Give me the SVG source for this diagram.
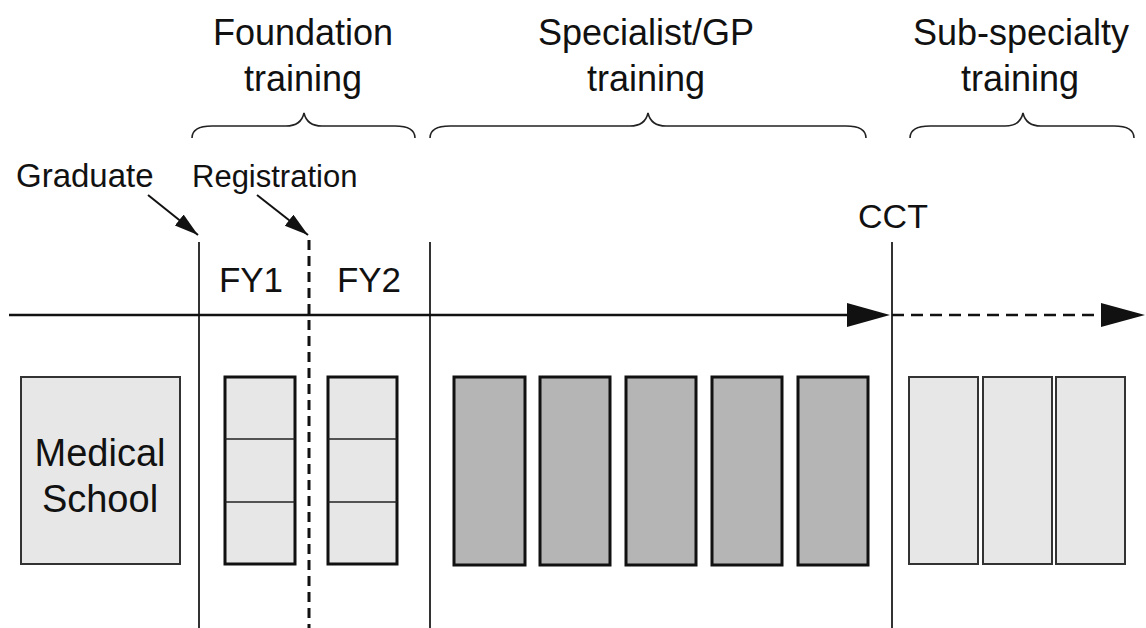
<svg xmlns="http://www.w3.org/2000/svg" width="1146" height="628" viewBox="0 0 1146 628">
  <style>
    text { font-family: "Liberation Sans", Arial, sans-serif; fill: #111; }
    .head { font-size: 36px; text-anchor: middle; }
    .lbl { font-size: 32px; }
    .fy { font-size: 35px; text-anchor: middle; }
    .brace { fill: none; stroke: #222; stroke-width: 1.6; }
    .vline { stroke: #333; stroke-width: 2; }
    .vdash { stroke: #111; stroke-width: 3; stroke-dasharray: 10 6; }
    .light { fill: #e7e7e7; stroke: #333; stroke-width: 2; }
    .fybox { fill: #e7e7e7; stroke: #111; stroke-width: 3; }
    .dark { fill: #b5b5b5; stroke: #111; stroke-width: 3; }
    .div { stroke: #222; stroke-width: 1.5; }
    .pointer { stroke: #111; stroke-width: 2; marker-end: url(#ah); }
  </style>
  <defs>
    <marker id="ah" markerUnits="userSpaceOnUse" markerWidth="26" markerHeight="16" refX="24" refY="7" orient="auto">
      <path d="M0,0 L24,7 L0,14 z" fill="#111"/>
    </marker>
  </defs>

  <!-- headings and braces -->
  <g id="foundation-heading">
    <text class="head" x="303" y="45">Foundation</text>
    <text class="head" x="303" y="91">training</text>
    <path class="brace" d="M192,138 C192,130 198,126 212,126 L286,126 C296,126 302,122 304,113 C306,122 312,126 322,126 L395,126 C409,126 415,130 415,138"/>
  </g>
  <g id="specialist-heading">
    <text class="head" x="646" y="45">Specialist/GP</text>
    <text class="head" x="646" y="91">training</text>
    <path class="brace" d="M430,138 C430,130 436,126 450,126 L630,126 C640,126 646,122 648,113 C650,122 656,126 666,126 L846,126 C860,126 866,130 866,138"/>
  </g>
  <g id="subspecialty-heading">
    <text class="head" x="1021" y="45">Sub-specialty</text>
    <text class="head" x="1020" y="91">training</text>
    <path class="brace" d="M910,138 C910,130 916,126 930,126 L1005,126 C1015,126 1021,122 1023,113 C1025,122 1031,126 1041,126 L1114,126 C1128,126 1134,130 1134,138"/>
  </g>

  <!-- milestone labels -->
  <g id="graduate"><text class="lbl" x="16" y="187" style="font-size:33px">Graduate</text></g>
  <g id="registration"><text class="lbl" x="192" y="187" style="font-size:31px">Registration</text></g>
  <g id="cct"><text class="lbl" x="893" y="228" text-anchor="middle" style="font-size:34px">CCT</text></g>
  <g id="fy1-label"><text class="fy" x="251" y="292">FY1</text></g>
  <g id="fy2-label"><text class="fy" x="369" y="292">FY2</text></g>

  <!-- dividers -->
  <g id="dividers">
    <line class="vline" x1="199" y1="242" x2="199" y2="628"/>
    <line class="vdash" x1="309" y1="240" x2="309" y2="628"/>
    <line class="vline" x1="430" y1="242" x2="430" y2="628"/>
    <line class="vline" x1="892" y1="242" x2="892" y2="628"/>
  </g>

  <!-- boxes -->
  <g id="medical-school">
    <rect class="light" x="21" y="377" width="159" height="187"/>
    <text x="100" y="466" text-anchor="middle" style="font-size:38px">Medical</text>
    <text x="100" y="512" text-anchor="middle" style="font-size:38px">School</text>
  </g>
  <g id="fy1">
    <rect class="fybox" x="225" y="377" width="70" height="187"/>
    <line class="div" x1="225" y1="439" x2="295" y2="439"/>
    <line class="div" x1="225" y1="502" x2="295" y2="502"/>
  </g>
  <g id="fy2">
    <rect class="fybox" x="328" y="377" width="69" height="187"/>
    <line class="div" x1="328" y1="439" x2="397" y2="439"/>
    <line class="div" x1="328" y1="502" x2="397" y2="502"/>
  </g>
  <g id="specialist-1"><rect class="dark" x="454" y="377" width="71" height="188"/></g>
  <g id="specialist-2"><rect class="dark" x="540" y="377" width="70" height="188"/></g>
  <g id="specialist-3"><rect class="dark" x="626" y="377" width="70" height="188"/></g>
  <g id="specialist-4"><rect class="dark" x="712" y="377" width="70" height="188"/></g>
  <g id="specialist-5"><rect class="dark" x="798" y="377" width="70" height="188"/></g>
  <g id="subspecialty-1"><rect class="light" x="909" y="377" width="69" height="187"/></g>
  <g id="subspecialty-2"><rect class="light" x="983" y="377" width="69" height="187"/></g>
  <g id="subspecialty-3"><rect class="light" x="1056" y="377" width="69" height="187"/></g>

  <!-- connectors -->
  <g id="connectors">
    <line x1="9" y1="315" x2="850" y2="315" stroke="#111" stroke-width="2.5"/>
    <polygon points="847,303 890,315 847,327" fill="#111"/>
    <line x1="892" y1="315" x2="1102" y2="315" stroke="#111" stroke-width="2.5" stroke-dasharray="12 7"/>
    <polygon points="1101,303 1145,315 1101,327" fill="#111"/>
    <line class="pointer" x1="148" y1="195" x2="198" y2="235"/>
    <line class="pointer" x1="257" y1="195" x2="308" y2="235"/>
  </g>
</svg>
